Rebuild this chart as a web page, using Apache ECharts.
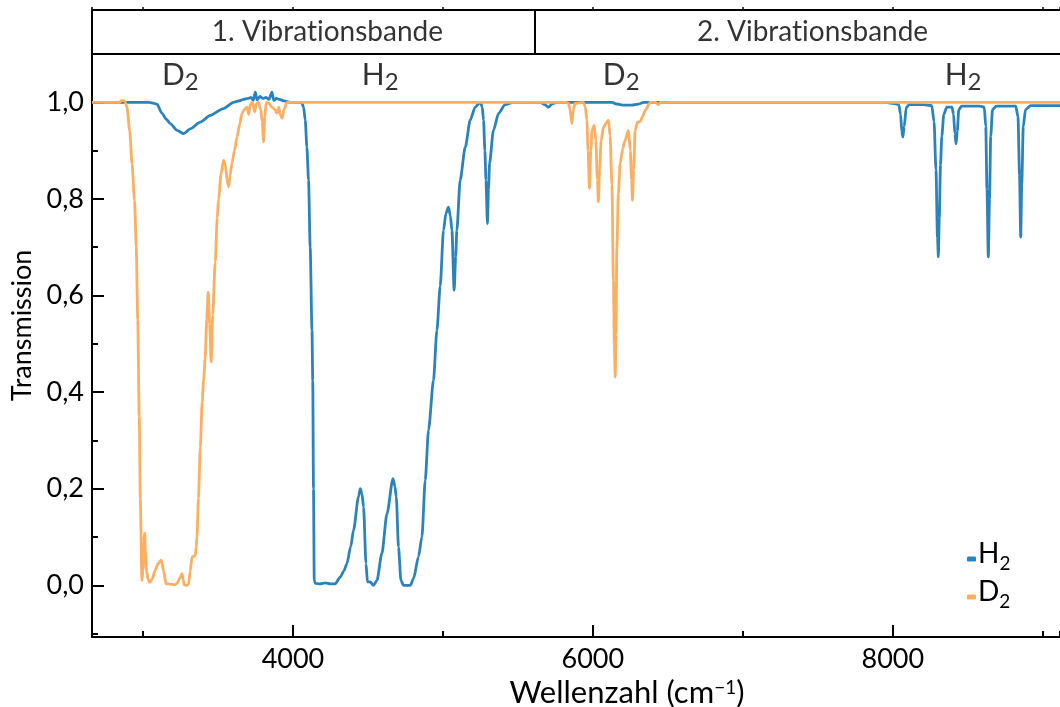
<!DOCTYPE html>
<html>
<head>
<meta charset="utf-8">
<script src="https://cdn.jsdelivr.net/npm/echarts@6/dist/echarts.min.js"></script>
<style>html,body{margin:0;padding:0;background:#fff}#c{width:1060px;height:707px}</style>
</head>
<body>
<div id="c"></div>
<script>
// ---- data (wavenumber cm^-1, transmission) ----
const xRange = [2660, 9115];
const yRange = [-0.107, 1.1];
const bandDivider = 5615;
const bandLabels = ['1. Vibrat\u200Cionsbande', '2. Vibrat\u200Cionsbande'];
const bandLabelX = [4230, 7465];
const peakNames = ['D', 'H', 'D', 'H'];
const peakX = [3249, 4582, 6189, 8469];
const seriesNames = ['H2', 'D2'];

const h2Data = [
 [2660,1.0],[3040,1.0],[3060,0.999],[3093,0.996],[3127,0.977],[3155,0.965],[3182,0.956],[3227,0.942],[3271,0.935],
 [3315,0.945],[3382,0.959],[3449,0.973],[3537,0.987],[3604,1.0],[3640,1.003],[3670,1.006],[3700,1.008],[3720,1.01],
 [3735,1.004],[3749,1.021],[3760,1.005],[3780,1.012],[3800,1.008],[3820,1.01],[3840,1.006],[3860,1.021],[3872,1.004],
 [3890,1.008],[3910,1.006],[3940,1.003],[3982,1.0],[4049,1.0],[4060,0.998],[4071,0.99],[4082,0.963],[4093,0.907],
 [4104,0.839],[4115,0.70],[4127,0.528],[4132,0.424],[4137,0.2],[4142,0.01],[4149,0.004],[4180,0.003],[4215,0.005],
 [4250,0.003],[4282,0.003],[4315,0.017],[4340,0.03],[4360,0.045],[4385,0.08],[4404,0.114],[4437,0.183],[4449,0.20],
 [4460,0.19],[4471,0.162],[4487,0.045],[4497,0.007],[4515,0.007],[4537,0.0],[4560,0.01],[4593,0.066],[4627,0.148],
 [4667,0.221],[4680,0.205],[4689,0.183],[4704,0.079],[4720,0.01],[4737,0.0],[4782,0.0],[4804,0.014],[4837,0.059],
 [4860,0.10],[4882,0.217],[4904,0.321],[4937,0.424],[4960,0.528],[4982,0.62],[5004,0.735],[5020,0.77],[5037,0.783],
 [5050,0.765],[5060,0.735],[5075,0.611],[5085,0.68],[5093,0.735],[5115,0.839],[5149,0.907],[5182,0.963],[5215,0.99],
 [5249,1.0],[5262,0.99],[5271,0.963],[5280,0.90],[5287,0.839],[5297,0.749],[5304,0.82],[5311,0.874],[5337,0.942],
 [5371,0.977],[5415,0.995],[5469,1.0],[5650,1.0],[5680,0.995],[5704,0.99],[5730,0.997],[5760,1.0],[6130,1.0],
 [6150,0.997],[6200,0.994],[6260,0.994],[6300,0.996],[6340,1.0],[7950,1.0],[8000,0.998],[8040,0.995],[8052,0.975],
 [8060,0.94],[8067,0.928],[8076,0.95],[8090,0.99],[8110,0.995],[8200,0.995],[8260,0.993],[8275,0.96],[8288,0.86],
 [8298,0.72],[8304,0.68],[8310,0.76],[8318,0.87],[8327,0.93],[8340,0.975],[8360,0.99],[8395,0.99],[8405,0.975],
 [8414,0.935],[8422,0.914],[8430,0.94],[8440,0.985],[8460,0.992],[8580,0.992],[8610,0.99],[8620,0.95],[8628,0.82],
 [8637,0.68],[8645,0.8],[8653,0.93],[8665,0.985],[8690,0.992],[8820,0.992],[8835,0.97],[8845,0.85],[8853,0.721],
 [8860,0.83],[8870,0.95],[8885,0.985],[8920,0.993],[9115,0.993]
];

const d2Data = [
 [2660,1.0],[2780,1.0],[2840,1.0],[2862,1.004],[2880,1.002],[2893,0.99],[2911,0.942],[2927,0.873],[2944,0.797],
 [2955,0.70],[2965,0.55],[2975,0.35],[2982,0.18],[2993,0.01],[3000,0.03],[3006,0.09],[3011,0.108],[3016,0.07],
 [3024,0.03],[3034,0.012],[3044,0.006],[3060,0.012],[3080,0.03],[3100,0.045],[3122,0.052],[3138,0.03],[3153,0.003],
 [3170,0.003],[3190,0.002],[3210,0.001],[3227,0.004],[3245,0.015],[3260,0.024],[3268,0.012],[3275,0.001],[3290,0.0],
 [3304,0.002],[3315,0.03],[3327,0.059],[3340,0.06],[3349,0.062],[3355,0.08],[3360,0.10],[3370,0.18],[3382,0.286],
 [3395,0.38],[3404,0.424],[3415,0.47],[3425,0.55],[3435,0.607],[3445,0.54],[3455,0.462],[3465,0.56],[3482,0.67],
 [3495,0.76],[3504,0.80],[3520,0.85],[3537,0.88],[3550,0.87],[3560,0.84],[3571,0.825],[3582,0.85],[3593,0.874],
 [3610,0.90],[3627,0.928],[3645,0.955],[3660,0.977],[3675,0.985],[3693,0.99],[3705,0.975],[3715,0.995],[3730,1.0],
 [3745,0.98],[3755,0.996],[3770,1.0],[3785,0.985],[3795,0.96],[3804,0.918],[3812,0.97],[3822,1.0],[3840,0.998],
 [3860,0.99],[3880,0.985],[3893,0.977],[3905,0.99],[3915,0.975],[3927,0.967],[3940,0.985],[3960,1.0],[4000,1.0],
 [5820,1.0],[5837,0.998],[5848,0.985],[5860,0.956],[5870,0.985],[5882,0.998],[5937,1.0],[5950,0.99],[5960,0.963],
 [5968,0.90],[5977,0.821],[5986,0.90],[5995,0.942],[6009,0.952],[6020,0.92],[6030,0.84],[6037,0.794],[6045,0.86],
 [6055,0.92],[6071,0.949],[6090,0.958],[6104,0.963],[6115,0.93],[6127,0.83],[6137,0.631],[6143,0.50],[6149,0.431],
 [6154,0.52],[6160,0.70],[6170,0.81],[6182,0.874],[6200,0.905],[6215,0.921],[6237,0.942],[6250,0.90],[6258,0.84],
 [6264,0.797],[6272,0.86],[6282,0.942],[6297,0.959],[6315,0.96],[6330,0.97],[6349,0.983],[6382,1.0],[6420,1.0],
 [6437,0.995],[6450,1.0],[9115,1.0]
];

// ---- chart ----
const FONT = 'Lato';
const BLUE = '#2b83ba', ORANGE = '#fdae61';
const chart = echarts.init(document.getElementById('c'), null, {renderer: 'canvas'});

const axisCommon = {
  min: xRange[0], max: xRange[1], splitLine: {show: false}
};

const option = {
  animation: false,
  backgroundColor: '#fff',
  textStyle: {fontFamily: FONT, color: '#000'},
  grid: [
    {left: 92, right: 0, top: 54, bottom: 70, outerBoundsMode: 'none'},
    {left: 92, right: 0, top: 10, height: 44, outerBoundsMode: 'none'}
  ],
  legend: {
    data: seriesNames,
    orient: 'vertical',
    left: 962, top: 522,
    itemGap: -8,
    itemWidth: 9, itemHeight: 5,
    icon: 'roundRect',
    formatter: n => '{n|' + n.charAt(0) + '}{s|' + n.slice(1) + '}',
    textStyle: {
      fontFamily: FONT, color: '#000', padding: [0, 0, 0, -3],
      rich: {
        n: {fontFamily: FONT, fontSize: 28, lineHeight: 28, verticalAlign: 'bottom', padding: [13, 0, 5, 0], color: '#000'},
        s: {fontFamily: FONT, fontSize: 19, lineHeight: 19, verticalAlign: 'bottom', color: '#000'}
      }
    }
  },
  xAxis: [
    Object.assign({}, axisCommon, {
      type: 'value', gridIndex: 0, position: 'bottom', splitNumber: 3,
      axisLine: {show: true, onZero: false, lineStyle: {color: '#000', width: 2}},
      axisTick: {show: true, inside: true, length: 12, lineStyle: {color: '#000', width: 2}},
      axisLabel: {show: true, margin: 9, fontFamily: FONT, fontSize: 27, color: '#000',
        showMinLabel: false, showMaxLabel: false, formatter: v => String(Math.round(v))},
      name: '{b|Wellenzahl (cm}{sup|−1}{b|)}',
      nameLocation: 'middle', nameGap: 36,
      nameTextStyle: {
        padding: [0, 0, 0, 102],
        rich: {
          b: {fontFamily: FONT, fontSize: 31, lineHeight: 31, verticalAlign: 'top', color: '#000'},
          sup: {fontFamily: FONT, fontSize: 19, lineHeight: 19, verticalAlign: 'top', color: '#000'}
        }
      }
    }),
    Object.assign({}, axisCommon, {
      type: 'value', gridIndex: 0, position: 'bottom', splitNumber: 6,
      axisLine: {show: false, onZero: false},
      axisTick: {show: true, inside: true, length: 6, lineStyle: {color: '#000', width: 2}},
      axisLabel: {show: false}
    }),
    Object.assign({}, axisCommon, {
      type: 'value', gridIndex: 1, position: 'top', splitNumber: 6,
      axisLine: {show: true, onZero: false, lineStyle: {color: '#000', width: 2}},
      axisTick: {show: true, inside: false, length: 3, lineStyle: {color: '#000', width: 1.5}},
      axisLabel: {show: false}
    }),
    Object.assign({}, axisCommon, {
      type: 'value', gridIndex: 1, position: 'bottom',
      axisLine: {show: true, onZero: false, lineStyle: {color: '#000', width: 2}},
      axisTick: {show: false}, axisLabel: {show: false}
    })
  ],
  yAxis: [
    {
      type: 'value', gridIndex: 0, position: 'left', min: yRange[0], max: yRange[1], splitNumber: 6,
      splitLine: {show: false},
      axisLine: {show: true, onZero: false, lineStyle: {color: '#000', width: 2}},
      axisTick: {show: true, inside: true, length: 12, lineStyle: {color: '#000', width: 2}},
      axisLabel: {show: true, margin: 8, fontFamily: FONT, fontSize: 27, color: '#000',
        showMinLabel: false, showMaxLabel: false,
        formatter: v => v.toFixed(1).replace('.', ',')},
      name: 'Transmission', nameLocation: 'middle', nameGap: 54, nameRotate: 90,
      nameTextStyle: {fontFamily: FONT, fontSize: 27, color: '#000', padding: [0, 0, 0, 40]}
    },
    {
      type: 'value', gridIndex: 0, position: 'left', offset: 0, min: yRange[0], max: yRange[1], splitNumber: 12,
      splitLine: {show: false},
      axisLine: {show: false, onZero: false},
      axisTick: {show: true, inside: true, length: 6, lineStyle: {color: '#000', width: 2}},
      axisLabel: {show: false}
    },
    {
      type: 'value', gridIndex: 1, position: 'left', min: 0, max: 1,
      splitLine: {show: false},
      axisLine: {show: true, onZero: false, lineStyle: {color: '#000', width: 2}},
      axisTick: {show: false}, axisLabel: {show: false}
    }
  ],
  series: [
    {
      name: 'H2', type: 'line', xAxisIndex: 0, yAxisIndex: 0,
      data: h2Data, showSymbol: false, symbol: 'none',
      smooth: 0.25, smoothMonotone: 'x',
      lineStyle: {color: BLUE, width: 2.8}, itemStyle: {color: BLUE}, z: 3
    },
    {
      name: 'D2', type: 'line', xAxisIndex: 0, yAxisIndex: 0,
      data: d2Data, showSymbol: false, symbol: 'none',
      smooth: 0.25, smoothMonotone: 'x',
      lineStyle: {color: ORANGE, width: 2.8}, itemStyle: {color: ORANGE}, z: 4
    },
    {
      name: 'peaks', type: 'scatter', xAxisIndex: 0, yAxisIndex: 0,
      symbolSize: 0, silent: true, z: 5,
      data: peakX.map((x, i) => ({value: [x, 1.048], nm: peakNames[i]})),
      label: {
        show: true, position: 'inside',
        formatter: p => '{n|' + p.data.nm + '}{s|2}',
        rich: {
          n: {fontFamily: FONT, fontSize: 30, lineHeight: 30, verticalAlign: 'bottom', padding: [4, 0, 4, 0], color: '#000'},
          s: {fontFamily: FONT, fontSize: 24, lineHeight: 24, verticalAlign: 'bottom', color: '#000'}
        }
      }
    },
    {
      name: 'bands', type: 'scatter', xAxisIndex: 2, yAxisIndex: 2,
      symbolSize: 0, silent: true,
      data: bandLabelX.map((x, i) => ({value: [x, 0.5], nm: bandLabels[i]})),
      label: {
        show: true, position: 'inside', formatter: p => p.data.nm,
        fontFamily: FONT, fontSize: 28, color: '#000'
      },
      markLine: {
        silent: true, symbol: 'none', animation: false,
        label: {show: false},
        lineStyle: {color: '#000', width: 2, type: 'solid'},
        data: [{xAxis: bandDivider}]
      }
    }
  ]
};
chart.setOption(option);
</script>
</body>
</html>
